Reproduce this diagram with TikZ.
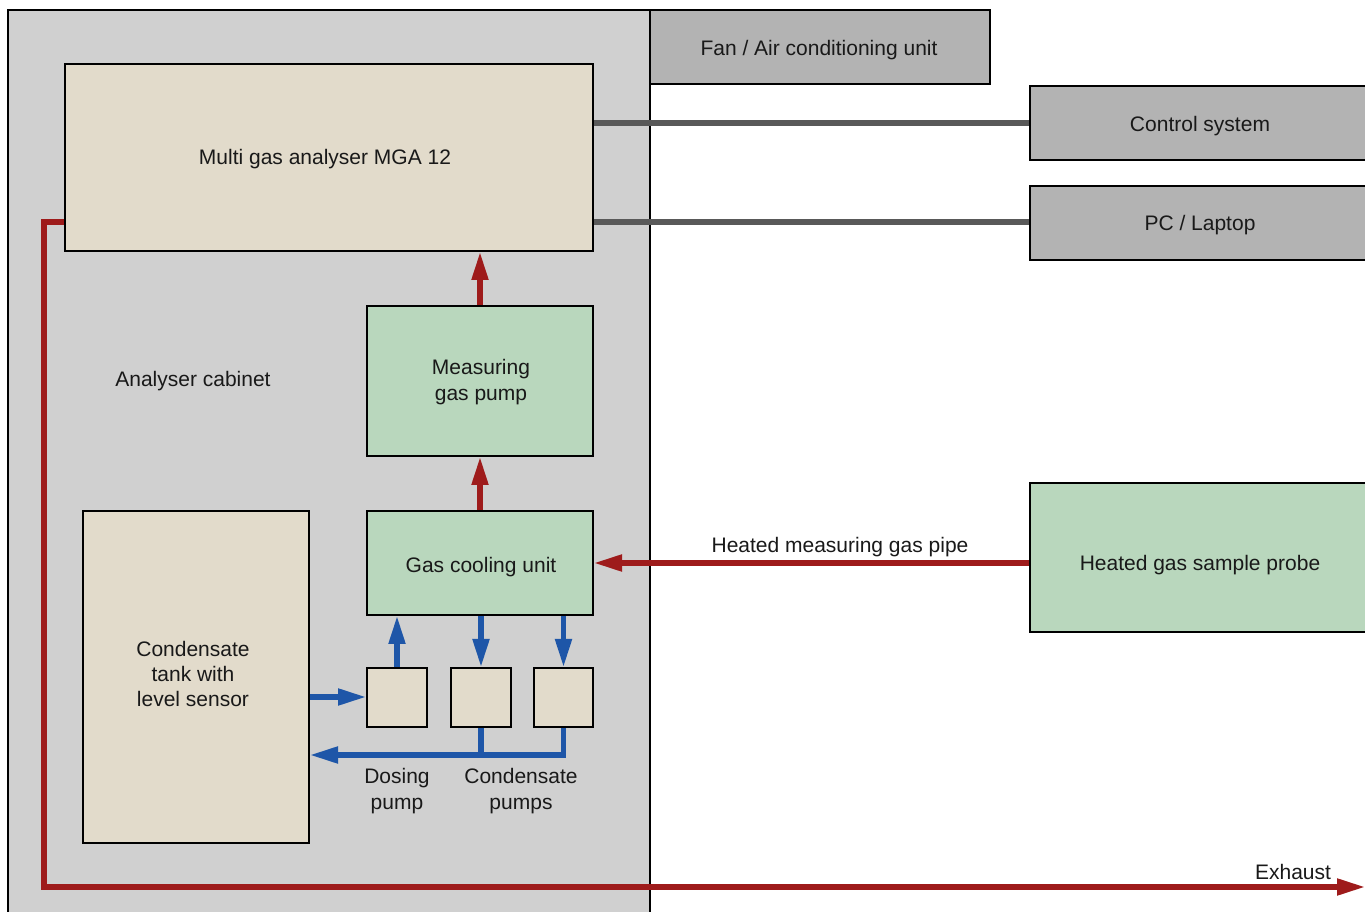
\documentclass[tikz,border=0pt]{standalone}
\usepackage{fontspec}
\setmainfont{Liberation Sans}
\usetikzlibrary{arrows.meta,fit}
\definecolor{cab}{HTML}{D0D0D0}
\definecolor{beige}{HTML}{E2DBCB}
\definecolor{mint}{HTML}{B9D7BD}
\definecolor{dgray}{HTML}{B3B3B3}
\definecolor{pipe}{HTML}{9E1B1B}
\definecolor{water}{HTML}{1E56A8}
\definecolor{wire}{HTML}{595959}
\begin{document}
\begin{tikzpicture}[x=0.75pt,y=-0.75pt,
  txt/.style={font=\fontsize{15.75}{19}\selectfont, align=center, text=black!90, yshift=-1.5pt},
  box/.style={draw=black, line width=1.5pt, inner sep=0pt},
  beigebox/.style={box, fill=beige},
  greenbox/.style={box, fill=mint},
  graybox/.style={box, fill=dgray},
  redpipe/.style={draw=pipe, line width=3.8pt, -{Triangle[length=21pt,width=12pt]}},
  bluepipe/.style={draw=water, line width=3.8pt, -{Triangle[length=21pt,width=12pt]}},
  blueline/.style={draw=water, line width=3.8pt},
  wireline/.style={draw=wire, line width=3.8pt}
]
\useasboundingbox (0,0) rectangle (1365,912);
\begin{scope}
\clip (0,0) rectangle (1365,912);
% cabinet
\fill[cab] (8,10) rectangle (650,920);
\draw[black, line width=0.8pt] (8,920) -- (8,10) -- (650,10) -- (650,920);
\draw[black, line width=2pt] (8,10) -- (990,10);

% boxes
\node[graybox, fit={(650,10)(990,84)}] (fan) {};
\node[txt] at (819,48) {Fan / Air conditioning unit};
\node[graybox, fit={(1030,86)(1375,160)}] (ctrl) {};
\node[txt] at (1200,124) {Control system};
\node[graybox, fit={(1030,186)(1375,260)}] (pc) {};
\node[txt] at (1200,223) {PC / Laptop};
\node[greenbox, fit={(1030,483)(1375,632)}] (probe) {};
\node[txt] at (1200,563) {Heated gas sample probe};

\node[beigebox, fit={(65,64)(593,251)}] (mga) {};
\node[txt] at (325,157) {Multi gas analyser MGA 12};
\node[greenbox, fit={(367,306)(593,456)}] (mpump) {};
\node[txt] at (481,380) {Measuring\\gas pump};
\node[greenbox, fit={(367,511)(593,615)}] (cool) {};
\node[txt] at (481,565) {Gas cooling unit};
\node[beigebox, fit={(83,511)(309,843)}] (tank) {};
\node[txt] at (193,672) {Condensate\\tank with\\level sensor};
\node[beigebox, fit={(367,668)(427,727)}] (dose) {};
\node[beigebox, fit={(451,668)(511,727)}] (cp1) {};
\node[beigebox, fit={(534,668)(593,727)}] (cp2) {};

\node[txt] at (193,379) {Analyser cabinet};
\node[txt] at (397,789) {Dosing\\pump};
\node[txt] at (521,789) {Condensate\\pumps};

% wires
\draw[wireline] (mga.east |- 0,123) -- (ctrl.west |- 0,123);
\draw[wireline] (mga.east |- 0,222) -- (pc.west |- 0,222);

% red gas path
\draw[redpipe] (cool.north) -- (mpump.south);
\draw[redpipe] (mpump.north) -- (mpump.north |- mga.south);
\draw[redpipe] (probe.west |- 0,563) -- (cool.east |- 0,563);
\node[txt] at (840,545) {Heated measuring gas pipe};
\coordinate (exh) at (1365,887);
\draw[redpipe] (mga.west |- 0,222) -- (44,222) -- (44,887) -- (exh);
\node[txt] at (1293,870) {Exhaust};

% blue condensate path
\draw[bluepipe] (tank.east |- 0,697) -- (dose.west |- 0,697);
\draw[bluepipe] (dose.north) -- (dose.north |- cool.south);
\draw[bluepipe] (cp1.north |- cool.south) -- (cp1.north);
\draw[bluepipe] (cp2.north |- cool.south) -- (cp2.north);
\draw[blueline] (cp1.south) -- (cp1.south |- 0,755);
\draw[bluepipe] (cp2.south) -- (cp2.south |- 0,755) -- (tank.east |- 0,755);
\end{scope}
\end{tikzpicture}
\end{document}
